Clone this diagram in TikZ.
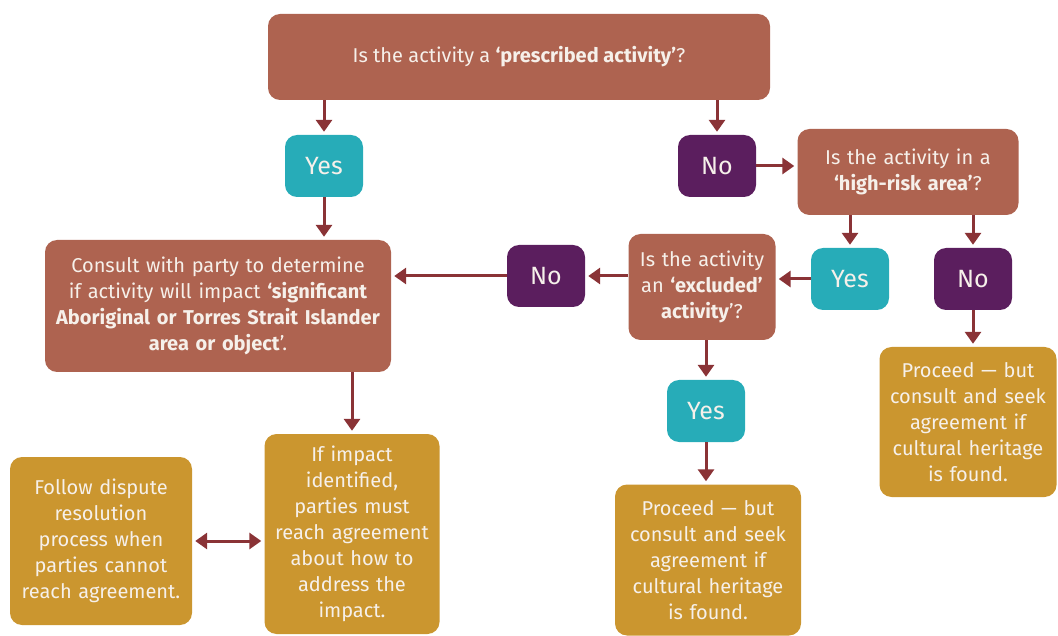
\documentclass[tikz,border=0pt]{standalone}
\usepackage{fontspec}
\setmainfont{Fira Sans}
\usetikzlibrary{arrows.meta, positioning}
\definecolor{askbrown}{HTML}{AE6350}
\definecolor{yesteal}{HTML}{27ACB8}
\definecolor{nopurple}{HTML}{5B1E5E}
\definecolor{outgold}{HTML}{CB962F}
\definecolor{flowred}{HTML}{8A3336}
\definecolor{boxtext}{HTML}{F6F0EA}

\tikzset{
  box/.style={rounded corners=12pt, inner sep=0pt, align=center, text=boxtext,
              font=\fontsize{20}{26}\selectfont},
  question/.style={box, fill=askbrown},
  answer/.style={box, minimum width=78pt, minimum height=62pt,
                 font=\fontsize{25}{30}\selectfont},
  yesbox/.style={answer, fill=yesteal},
  nobox/.style={answer, fill=nopurple},
  outcome/.style={box, fill=outgold},
  flow/.style={draw=flowred, line width=3pt, shorten >=3pt,
               -{Triangle[width=16pt,length=12pt]}}
}

\begin{document}
\begin{tikzpicture}[x=1pt, y=-1pt]
\useasboundingbox (0,0) rectangle (1058,636);

\node[question, minimum width=502pt, minimum height=86pt] (prescribed) at (519,57)
  {Is the activity a \textbf{‘prescribed activity’}?};
\node[yesbox] (yes1) at (324,166) {Yes};
\node[nobox] (no1) at (717,166) {No};
\node[question, minimum width=221pt, minimum height=86pt, text width=214pt] (highrisk) at (908,172)
  {Is the activity in a\\\textbf{‘high-risk area’}?};
\node[yesbox] (yes2) at (850,279) {Yes};
\node[nobox] (no3) at (973,279) {No};
\node[question, minimum width=147pt, minimum height=106pt, text width=142pt] (excluded) at (702,287)
  {Is the activity\\an \textbf{‘excluded’}\\\textbf{activity}’?};
\node[nobox] (no2) at (546,276) {No};
\node[question, minimum width=346pt, minimum height=132pt, text width=340pt] (consult) at (218,306)
  {Consult with party to determine\\if activity will impact \textbf{‘significant}\\\textbf{Aboriginal or Torres Strait Islander}\\\textbf{area or object}’.};
\node[yesbox] (yes3) at (706,411) {Yes};
\node[outcome, minimum width=186pt, minimum height=151pt, text width=180pt] (proceedmid) at (708,560)
  {Proceed — but\\consult and seek\\agreement if\\cultural heritage\\is found.};
\node[outcome, minimum width=177pt, minimum height=150pt, text width=172pt] (proceedright) at (968,422)
  {Proceed — but\\consult and seek\\agreement if\\cultural heritage\\is found.};
\node[outcome, minimum width=175pt, minimum height=200pt, text width=170pt] (impact) at (352,534)
  {If impact\\identified,\\parties must\\reach agreement\\about how to\\address the\\impact.};
\node[outcome, minimum width=182pt, minimum height=168pt, text width=178pt] (dispute) at (101,541)
  {Follow dispute\\resolution\\process when\\parties cannot\\reach agreement.};

\draw[flow] (yes1 |- prescribed.south) -- (yes1.north);
\draw[flow] (no1 |- prescribed.south) -- (no1.north);
\draw[flow] (no1.east) -- (no1.east -| highrisk.west);
\draw[flow] (yes2 |- highrisk.south) -- (yes2.north);
\draw[flow] (no3 |- highrisk.south) -- (no3.north);
\draw[flow] (yes2.west) -- (yes2.west -| excluded.east);
\draw[flow] (excluded.west |- no2) -- (no2.east);
\draw[flow] (no2.west) -- (no2.west -| consult.east);
\draw[flow] (yes1.south) -- (yes1.south |- consult.north);
\draw[flow] (consult.south -| impact) -- (impact.north);
\draw[flow] (yes3 |- excluded.south) -- (yes3.north);
\draw[flow] (yes3.south) -- (yes3.south |- proceedmid.north);
\draw[flow] (no3.south) -- (no3.south |- proceedright.north);
\draw[flow, shorten <=3pt, {Triangle[width=16pt,length=12pt]}-{Triangle[width=16pt,length=12pt]}]
  (dispute.east) -- (dispute.east -| impact.west);
\end{tikzpicture}
\end{document}
